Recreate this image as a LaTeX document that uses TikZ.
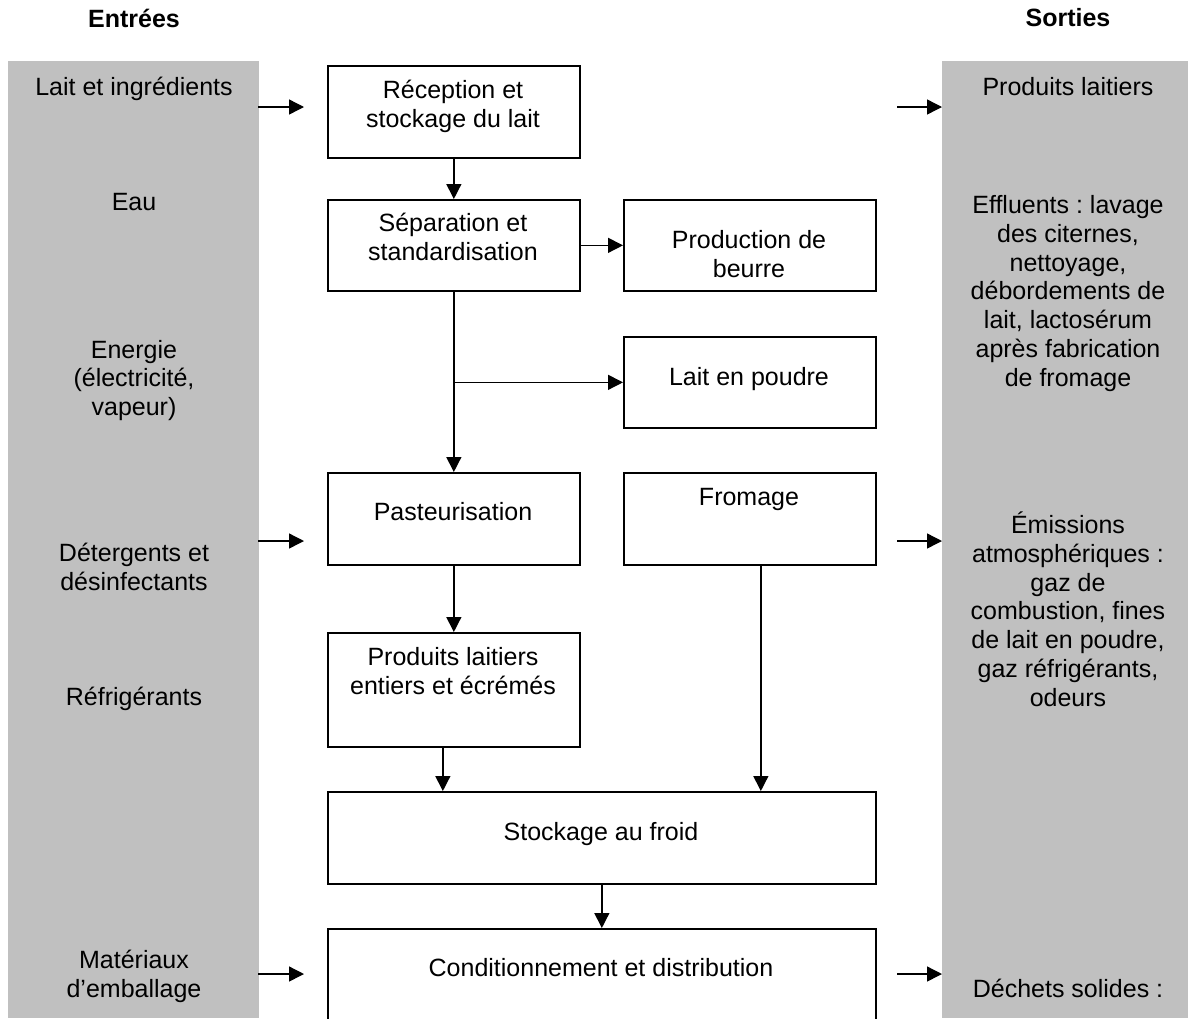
\documentclass[tikz,border=0pt]{standalone}
\usepackage{fontspec}
\setmainfont{Liberation Sans}
\usetikzlibrary{arrows.meta}
\definecolor{panelgray}{RGB}{192,192,192}
\newcommand\lstr{\rule[-6.5pt]{0pt}{28.5pt}}
\frenchspacing
\begin{document}
\begin{tikzpicture}[x=1pt,y=-1pt,
  basefont/.style={font=\fontsize{25}{28.75}\selectfont},
  txt/.style={basefont, inner sep=0pt, align=center},
  head/.style={inner sep=0pt, align=center, font=\fontsize{25}{28.75}\selectfont\bfseries},
  box/.style={draw, line width=1.7pt, inner sep=0pt, anchor=north west},
  panel/.style={fill=panelgray, draw=none, inner sep=0pt, anchor=north west},
  arr/.style={line width=1.4pt, -{Triangle[length=15pt,width=15pt]}}]
\useasboundingbox (0,0) rectangle (1188,1018);
\fill[white] (0,0) rectangle (1188,1018);

% side panels
\node[panel, minimum width=251pt, minimum height=957pt] (lpanel) at (8,61) {};
\node[panel, minimum width=246pt, minimum height=957pt] (rpanel) at (942,61) {};

% headings
\node[head] (hin) at (134,18) {Entrées};
\node[head] (hout) at (1068,18) {Sorties};

% input texts
\node[txt] (tlait) at (134,88) {\lstr Lait et ingrédients};
\node[txt] (teau) at (134,203) {\lstr Eau};
\node[txt] (tener) at (134,379) {\lstr Energie\\\lstr (électricité,\\\lstr vapeur)};
\node[txt] (tdet) at (134,568.5) {\lstr Détergents et\\\lstr désinfectants};
\node[txt] (tref) at (134,698) {\lstr Réfrigérants};
\node[txt] (tmat) at (134,975.5) {\lstr Matériaux\\\lstr d’emballage};

% output texts
\node[txt] (tprod) at (1068,88) {\lstr Produits laitiers};
\node[txt] (teff) at (1068,292) {\lstr Effluents : lavage\\\lstr des citernes,\\\lstr nettoyage,\\\lstr débordements de\\\lstr lait, lactosérum\\\lstr après fabrication\\\lstr de fromage};
\node[txt] (temi) at (1068,612) {\lstr Émissions\\\lstr atmosphériques :\\\lstr gaz de\\\lstr combustion, fines\\\lstr de lait en poudre,\\\lstr gaz réfrigérants,\\\lstr odeurs};
\node[txt] (tdec) at (1068,990) {\lstr Déchets solides :};

% process boxes
\node[box, minimum width=252pt, minimum height=92pt] (rec) at (327,65) {};
\node[box, minimum width=252pt, minimum height=91pt] (sep) at (327,199) {};
\node[box, minimum width=252pt, minimum height=91pt] (beu) at (623,199) {};
\node[box, minimum width=252pt, minimum height=91pt] (pou) at (623,336) {};
\node[box, minimum width=252pt, minimum height=92pt] (pas) at (327,472) {};
\node[box, minimum width=252pt, minimum height=92pt] (fro) at (623,472) {};
\node[box, minimum width=252pt, minimum height=114pt] (pro) at (327,632) {};
\node[box, minimum width=548pt, minimum height=92pt] (sto) at (327,791) {};
\node[box, minimum width=548pt, minimum height=110pt] (con) at (327,928) {};

% box texts
\node[txt] (trec) at (453,105.5) {\lstr Réception et\\\lstr stockage du lait};
\node[txt] (tsep) at (453,238) {\lstr Séparation et\\\lstr standardisation};
\node[txt] (tbeu) at (749,255) {\lstr Production de\\\lstr beurre};
\node[txt] (tpou) at (749,378) {\lstr Lait en poudre};
\node[txt] (tpas) at (453,513) {\lstr Pasteurisation};
\node[txt] (tfro) at (749,498) {\lstr Fromage};
\node[txt] (tpro) at (453,672.5) {\lstr Produits laitiers\\\lstr entiers et écrémés};
\node[txt] (tsto) at (601,833) {\lstr Stockage au froid};
\node[txt] (tcon) at (601,969) {\lstr Conditionnement et distribution};

% flow connectors
\draw[arr] (rec.south) -- (sep.north);
\draw[arr] (sep.east) -- (beu.west);
\draw[arr] (sep.south) -- (pas.north);
\draw[arr] (sep.south |- pou.west) -- (pou.west);
\draw[arr] (pas.south) -- (pro.north);
\draw[arr] ([xshift=-11pt]pro.south) -- ([xshift=-11pt]pro.south |- sto.north);
\draw[arr] ([xshift=11pt]fro.south) -- ([xshift=11pt]fro.south |- sto.north);
\draw[arr] (sto.south) -- (con.north);

% input arrows
\coordinate (ia1) at (258,107); \coordinate (ib1) at (304,107);
\coordinate (ia2) at (258,541); \coordinate (ib2) at (304,541);
\coordinate (ia3) at (258,974); \coordinate (ib3) at (304,974);
\draw[arr] (ia1) -- (ib1);
\draw[arr] (ia2) -- (ib2);
\draw[arr] (ia3) -- (ib3);

% output arrows
\coordinate (oa1) at (897,107); \coordinate (ob1) at (942,107);
\coordinate (oa2) at (897,541); \coordinate (ob2) at (942,541);
\coordinate (oa3) at (897,974); \coordinate (ob3) at (942,974);
\draw[arr] (oa1) -- (ob1);
\draw[arr] (oa2) -- (ob2);
\draw[arr] (oa3) -- (ob3);
\end{tikzpicture}
\end{document}
